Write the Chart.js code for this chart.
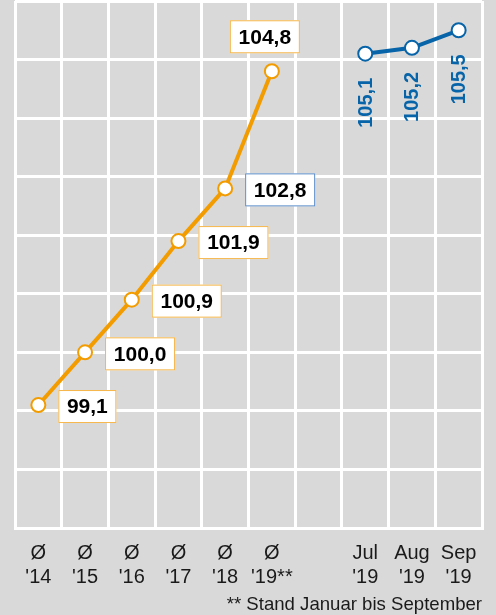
<!DOCTYPE html>
<html>
<head>
<meta charset="utf-8">
<script src="https://cdn.jsdelivr.net/npm/chart.js@4/dist/chart.umd.min.js"></script>
<style>
  html, body { margin: 0; padding: 0; background: #d9d9d9; }
  #wrap { width: 496px; height: 615px; }
</style>
</head>
<body>
<div id="wrap"><canvas id="myChart"></canvas></div>
<script>
// categories (index 6 is the empty gap between yearly and monthly values)
const labels = [
  ["Ø", "'14"], ["Ø", "'15"], ["Ø", "'16"], ["Ø", "'17"], ["Ø", "'18"], ["Ø", "'19**"],
  "",
  ["Jul", "'19"], ["Aug", "'19"], ["Sep", "'19"]
];
const yearly = [99.1, 100.0, 100.9, 101.9, 102.8, 104.8, null, null, null, null];
const monthly = [null, null, null, null, null, null, null, 105.1, 105.2, 105.5];
const yTicks = [97, 98, 99, 100, 101, 102, 103, 104, 105, 106];
const footnote = "** Stand Januar bis September";

const orange = "#f39c00";
const blue = "#0764a9";
const font = '"Liberation Sans", Arial, sans-serif';

const fmt = function (v) {
  return v.toFixed(1).replace(".", ",");
};

// value labels: boxes for the yearly line, rotated text for the months
const valueLabels = {
  id: "valueLabels",
  afterDatasetsDraw(chart) {
    const ctx = chart.ctx;
    ctx.save();
    ctx.font = "bold 21px " + font;
    ctx.textBaseline = "middle";
    ctx.textAlign = "center";

    const meta0 = chart.getDatasetMeta(0);
    let last = -1;
    yearly.forEach((v, i) => { if (v != null) last = i; });
    meta0.data.forEach((pt, i) => {
      const v = yearly[i];
      if (v == null) return;
      const txt = fmt(v);
      const w = Math.round(ctx.measureText(txt).width + 17);
      const h = 33;
      let left, top;
      if (i === last) {
        left = pt.x - 7 - w / 2;
        top = pt.y - 18 - h;
      } else {
        left = pt.x + 20;
        top = pt.y - 15;
      }
      ctx.fillStyle = "#ffffff";
      ctx.fillRect(left, top, w, h);
      ctx.lineWidth = 1;
      ctx.strokeStyle = i === 4 ? "#5b8cc8" : "#f6b64a";
      ctx.strokeRect(left + 0.5, top + 0.5, w - 1, h - 1);
      ctx.fillStyle = "#000000";
      ctx.fillText(txt, left + w / 2, top + h / 2 + 1);
    });

    const meta1 = chart.getDatasetMeta(1);
    ctx.font = "bold 20px " + font;
    ctx.fillStyle = blue;
    ctx.textAlign = "right";
    meta1.data.forEach((pt, i) => {
      const v = monthly[i];
      if (v == null) return;
      ctx.save();
      ctx.translate(pt.x + 1, pt.y + 24);
      ctx.rotate(-Math.PI / 2);
      ctx.fillText(fmt(v), 0, 0);
      ctx.restore();
    });
    ctx.restore();
  }
};

const ctx1 = document.getElementById("myChart").getContext("2d");
const myChart = new Chart(ctx1, {
  type: "line",
  data: {
    labels: labels,
    datasets: [
      {
        data: yearly,
        borderColor: orange,
        borderWidth: 4,
        pointRadius: 7,
        pointBorderWidth: 2,
        pointBackgroundColor: "#ffffff",
        pointBorderColor: orange,
        tension: 0,
        spanGaps: false
      },
      {
        data: monthly,
        borderColor: blue,
        borderWidth: 4,
        pointRadius: 7,
        pointBorderWidth: 2,
        pointBackgroundColor: "#ffffff",
        pointBorderColor: blue,
        tension: 0,
        spanGaps: false
      }
    ]
  },
  options: {
    responsive: true,
    maintainAspectRatio: false,
    animation: false,
    layout: { autoPadding: false, padding: { left: 15, right: 14, top: 1, bottom: 0 } },
    plugins: {
      legend: { display: false },
      tooltip: { enabled: false },
      title: {
        display: true,
        text: footnote,
        position: "bottom",
        align: "end",
        color: "#1a1a1a",
        font: { family: font, size: 18.6, weight: "normal", lineHeight: "6px" },
        padding: { top: 0, bottom: 7 }
      }
    },
    scales: {
      x: {
        offset: true,
        grid: { offset: true, color: "#ffffff", lineWidth: 3, drawTicks: false },
        border: { display: true, color: "#ffffff", width: 3 },
        ticks: {
          color: "#1a1a1a",
          padding: 13,
          maxRotation: 0,
          autoSkip: false,
          font: { family: font, size: 20, lineHeight: 1.2 }
        }
      },
      y: {
        min: yTicks[0],
        max: yTicks[yTicks.length - 1],
        afterBuildTicks: function (axis) {
          axis.ticks = yTicks.map(v => ({ value: v }));
        },
        grid: { color: "#ffffff", lineWidth: 3, drawTicks: false },
        border: { display: false },
        ticks: { display: false }
      }
    }
  },
  plugins: [valueLabels]
});
</script>
</body>
</html>
